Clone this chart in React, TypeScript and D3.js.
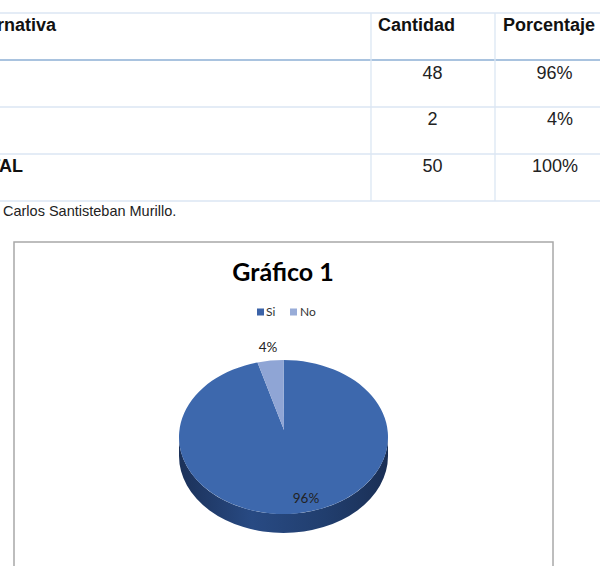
import React from "react";
import * as d3 from "d3";

const headers = ["Alternativa", "Cantidad", "Porcentaje"];
const rowLabels = ["Si", "No", "TOTAL"];
const counts = [48, 2, 50];
const percents = ["96%", "4%", "100%"];
const footer = "Carlos Santisteban Murillo.";

const chartTitle = "Gráfico 1";
const categories = ["Si", "No"];
const values = [48, 2];
const sliceLabels = ["96%", "4%"];
const topColors = ["#3d68ad", "#8fa5d5"];
const legendColors = ["#3b63a8", "#98acd8"];

export default function App() {
  const W = 600, H = 566;
  // table geometry
  const rowLines = [13, 60, 107, 154, 201];
  const colLines = [371, 495];
  const rowBase = [79, 125, 172];

  // pie geometry
  const cx = 283.5, cy = 437, rx = 104.5, ry = 77, depth = 19;
  const apex = { x: 284, y: 430 };
  const pie = d3.pie<number>().sort(null).value((d) => d);
  const arcs = pie(values);
  const P = (a: number, dy = 0) => [cx + rx * Math.sin(a), cy - ry * Math.cos(a) + dy];
  const fmt = (p: number[]) => `${p[0].toFixed(2)},${p[1].toFixed(2)}`;

  const sides = arcs
    .map((a, i) => {
      const a0 = Math.max(a.startAngle, Math.PI / 2);
      const a1 = Math.min(a.endAngle, (3 * Math.PI) / 2);
      if (a1 <= a0) return null;
      const d = `M${fmt(P(a0))} A${rx},${ry} 0 0 1 ${fmt(P(a1))} L${fmt(P(a1, depth))} A${rx},${ry} 0 0 0 ${fmt(P(a0, depth))} Z`;
      return { d, i };
    })
    .filter(Boolean) as { d: string; i: number }[];

  const tops = arcs.map((a, i) => {
    const large = a.endAngle - a.startAngle > Math.PI ? 1 : 0;
    const d = `M${apex.x},${apex.y} L${fmt(P(a.startAngle))} A${rx},${ry} 0 ${large} 1 ${fmt(P(a.endAngle))} Z`;
    return { d, i };
  });

  const labelPos = [
    { x: 306, y: 503 },
    { x: 268, y: 352 },
  ];

  const legendItems = [
    { sx: 257, tx: 266 },
    { sx: 290, tx: 300 },
  ];

  const tableFont = "'Liberation Sans', Arial, sans-serif";
  const chartFont = "Lato, 'Open Sans', sans-serif";

  return (
    <svg width={W} height={H} style={{ position: "absolute", left: 0, top: 0, background: "#fff" }}>
      <rect x={0} y={0} width={W} height={H} fill="#fff" />
      {/* table lines */}
      {rowLines.map((y, i) => (
        <line key={"h" + i} x1={0} x2={W} y1={y} y2={y} stroke={i === 1 ? "#a9c3df" : "#dbe6f3"} strokeWidth={i === 1 ? 2 : 1.3} />
      ))}
      {colLines.map((x, i) => (
        <line key={"v" + i} x1={x} x2={x} y1={13} y2={201} stroke="#dbe6f3" strokeWidth={1.3} />
      ))}
      {/* header */}
      <text x={56} y={30.5} textAnchor="end" fontFamily={tableFont} fontWeight="bold" fontSize={18} fill="#111">{headers[0]}</text>
      <text x={378} y={30.5} fontFamily={tableFont} fontWeight="bold" fontSize={18} fill="#111">{headers[1]}</text>
      <text x={503} y={30.5} fontFamily={tableFont} fontWeight="bold" fontSize={18} fill="#111">{headers[2]}</text>
      {/* rows */}
      {rowLabels.map((r, i) => (
        <g key={"r" + i}>
          {i === 2 && (
            <text x={23} y={rowBase[i]} textAnchor="end" fontFamily={tableFont} fontWeight="bold" fontSize={18} fill="#111">{r}</text>
          )}
          <text x={432.5} y={rowBase[i]} textAnchor="middle" fontFamily={tableFont} fontSize={18} fill="#222">{counts[i]}</text>
          <text x={i === 1 ? 573 : i === 0 ? 554.5 : 555} y={rowBase[i]} textAnchor={i === 1 ? "end" : "middle"} fontFamily={tableFont} fontSize={18} fill="#222">{percents[i]}</text>
        </g>
      ))}
      <text x={3} y={216} fontFamily={tableFont} fontSize={14.5} fill="#222">{footer}</text>

      {/* chart box */}
      <rect x={14} y={242} width={539} height={340} fill="#fff" stroke="#a8a8a8" strokeWidth={1.5} />
      <text x={283} y={281} textAnchor="middle" fontFamily={chartFont} fontWeight="bold" fontSize={25} fill="#000">{chartTitle}</text>
      {categories.map((c, i) => (
        <g key={"l" + i}>
          <rect x={legendItems[i].sx} y={308.5} width={7} height={7} fill={legendColors[i]} />
          <text x={legendItems[i].tx} y={316} fontFamily={chartFont} fontSize={12} fill="#333">{c}</text>
        </g>
      ))}
      <defs>
        <linearGradient id="sideGrad" x1={cx - rx} x2={cx + rx} y1={0} y2={0} gradientUnits="userSpaceOnUse">
          <stop offset="0" stopColor="#1b3159" />
          <stop offset="0.35" stopColor="#284a83" />
          <stop offset="0.7" stopColor="#213e6e" />
          <stop offset="1" stopColor="#1a2f55" />
        </linearGradient>
      </defs>
      {sides.map((s) => (
        <path key={"s" + s.i} d={s.d} fill="url(#sideGrad)" />
      ))}
      {tops.map((t) => (
        <path key={"t" + t.i} d={t.d} fill={topColors[t.i]} />
      ))}
      {sliceLabels.map((l, i) => (
        <text key={"sl" + i} x={labelPos[i].x} y={labelPos[i].y} textAnchor="middle" fontFamily={chartFont} fontSize={13.5} fill="#222">{l}</text>
      ))}
    </svg>
  );
}
